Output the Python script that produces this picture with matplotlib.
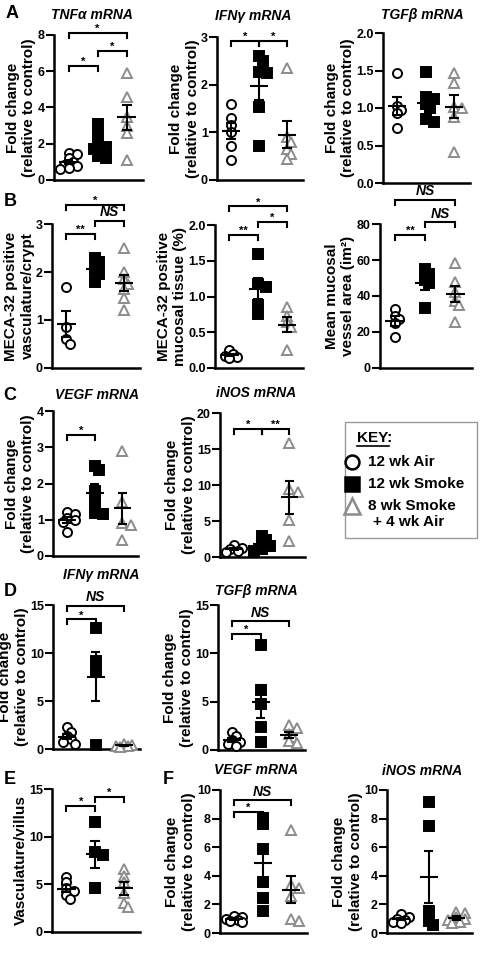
import numpy as np
import matplotlib
matplotlib.use("Agg")
import matplotlib.pyplot as plt
from matplotlib.patches import Rectangle

plt.rcParams["font.family"] = ["Liberation Sans", "DejaVu Sans"]
plt.rcParams["font.weight"] = "bold"

W, H = 480, 974
GREY = "#8c8c8c"

# -----------------------------
# Data: 12 wk Air / 12 wk Smoke / 8 wk Smoke + 4 wk Air
# -----------------------------
tnfa_air = [1.5, 1.45, 1.2, 1.0, 0.85, 0.75, 0.65, 0.6]
tnfa_smoke = [3.1, 2.5, 1.9, 1.8, 1.7, 1.3, 1.2]
tnfa_rec = [5.9, 4.6, 3.5, 3.0, 2.6, 1.1]

ifng_air = [1.6, 1.3, 1.15, 1.0, 0.72, 0.43]
ifng_smoke = [2.6, 2.5, 2.27, 2.25, 1.53, 0.72]
ifng_rec = [2.35, 0.9, 0.8, 0.65, 0.55, 0.45]

tgfb_air = [1.47, 1.03, 0.98, 0.93, 0.73]
tgfb_smoke = [1.48, 1.15, 1.12, 1.05, 1.0, 0.85, 0.82]
tgfb_rec = [1.47, 1.33, 1.02, 1.0, 0.88, 0.42]

meca_crypt_air = [1.68, 0.86, 0.6, 0.5]
meca_crypt_smoke = [2.3, 2.2, 2.05, 1.95, 1.8]
meca_crypt_rec = [2.5, 2.0, 1.85, 1.75, 1.65, 1.45, 1.2]

meca_tissue_air = [0.25, 0.2, 0.17, 0.15, 0.14]
meca_tissue_smoke = [1.6, 1.17, 1.13, 0.88, 0.75]
meca_tissue_rec = [0.85, 0.73, 0.64, 0.57, 0.25]

vessel_area_air = [33, 29, 27, 25, 17]
vessel_area_smoke = [55, 52, 49, 47, 33.5]
vessel_area_rec = [58.5, 48, 42.5, 37, 35, 25.7]

vegf_c_air = [1.22, 1.15, 1.05, 1.0, 0.95, 0.65]
vegf_c_smoke = [2.48, 2.37, 1.78, 1.48, 1.2, 1.15]
vegf_c_rec = [2.9, 1.5, 0.9, 0.85, 0.43]

inos_c_air = [1.7, 1.3, 1.1, 0.9, 0.7]
inos_c_smoke = [2.9, 2.4, 1.9, 1.5, 1.1, 0.8]
inos_c_rec = [15.8, 9.4, 9.0, 5.1, 2.2]

ifng_d_air = [2.3, 1.8, 1.4, 1.0, 0.7, 0.5]
ifng_d_smoke = [12.6, 9.2, 8.0, 0.38]
ifng_d_rec = [0.55, 0.45, 0.35, 0.3, 0.25]

tgfb_d_air = [1.9, 1.4, 1.0, 0.8, 0.6, 0.45]
tgfb_d_smoke = [10.86, 6.2, 4.76, 2.34, 0.86]
tgfb_d_rec = [2.6, 2.3, 1.7, 1.3, 0.9, 0.7]

villus_air = [5.8, 5.2, 4.6, 4.3, 3.9, 3.5]
villus_smoke = [11.5, 8.35, 8.07, 4.63]
villus_rec = [6.6, 5.9, 5.2, 4.1, 3.0, 2.6]

vegf_f_air = [1.2, 1.1, 1.0, 0.9, 0.85, 0.8]
vegf_f_smoke = [8.07, 7.6, 5.9, 3.6, 2.44, 1.56]
vegf_f_rec = [7.2, 3.37, 3.14, 2.56, 1.0, 0.81]

inos_f_air = [1.3, 1.1, 1.0, 0.9, 0.8, 0.7]
inos_f_smoke = [9.14, 7.5, 1.56, 0.86, 0.58]
inos_f_rec = [1.5, 1.4, 1.1, 1.0, 0.9, 0.8, 0.7]

FOLD = "Fold change\n(relative to control)"

# panel options: axes box in pixels (left, top, right, bottom), y ticks, label, groups, brackets
panels = [
    dict(box=(54, 35, 143, 180), ticks=[0, 2, 4, 6, 8], fmt="{:.0f}", ylabel=FOLD,
         title="TNFα mRNA", tpos=(92, 15),
         groups=[tnfa_air, tnfa_smoke, tnfa_rec],
         brackets=[(1, 2, 6.3, "*"), (2, 3, 7.1, "*"), (1, 3, 8.1, "*")]),
    dict(box=(217, 37, 303, 180), ticks=[0, 1, 2, 3], fmt="{:.0f}", ylabel=FOLD,
         title="IFNγ mRNA", tpos=(253, 16),
         groups=[ifng_air, ifng_smoke, ifng_rec],
         brackets=[(1, 2, 2.92, "*"), (2, 3, 2.92, "*")]),
    dict(box=(383, 33, 470, 183), ticks=[0, 0.5, 1.0, 1.5, 2.0], fmt="{:.1f}", ylabel=FOLD,
         title="TGFβ mRNA", tpos=(422, 15),
         groups=[tgfb_air, tgfb_smoke, tgfb_rec], brackets=[]),
    dict(box=(52, 224, 140, 368), ticks=[0, 1, 2, 3], fmt="{:.0f}",
         ylabel="MECA-32 positive\nvasculature/crypt",
         groups=[meca_crypt_air, meca_crypt_smoke, meca_crypt_rec],
         brackets=[(1, 2, 2.79, "**"), (2, 3, 3.07, "NS"), (1, 3, 3.4, "*")]),
    dict(box=(215, 225, 303, 368), ticks=[0, 0.5, 1.0, 1.5, 2.0], fmt="{:.1f}",
         ylabel="MECA-32 positive\nmucosal tissue (%)",
         groups=[meca_tissue_air, meca_tissue_smoke, meca_tissue_rec],
         brackets=[(1, 2, 1.86, "**"), (2, 3, 2.04, "*"), (1, 3, 2.26, "*")]),
    dict(box=(380, 224, 472, 368), ticks=[0, 20, 40, 60, 80], fmt="{:.0f}",
         ylabel="Mean mucosal\nvessel area (im²)",
         groups=[vessel_area_air, vessel_area_smoke, vessel_area_rec],
         brackets=[(1, 2, 74, "**"), (2, 3, 81, "NS"), (1, 3, 93.5, "NS")]),
    dict(box=(53, 411, 138, 556), ticks=[0, 1, 2, 3, 4], fmt="{:.0f}", ylabel=FOLD,
         title="VEGF mRNA", tpos=(97, 395),
         groups=[vegf_c_air, vegf_c_smoke, vegf_c_rec],
         brackets=[(1, 2, 3.34, "*")]),
    dict(box=(220, 413, 305, 557), ticks=[0, 5, 10, 15, 20], fmt="{:.0f}", ylabel=FOLD,
         title="iNOS mRNA", tpos=(256, 393),
         groups=[inos_c_air, inos_c_smoke, inos_c_rec],
         brackets=[(1, 2, 17.8, "*"), (2, 3, 17.8, "**")]),
    dict(box=(53, 605, 140, 749), ticks=[0, 5, 10, 15], fmt="{:.0f}", ylabel=FOLD,
         title="IFNγ mRNA", tpos=(101, 575),
         groups=[ifng_d_air, ifng_d_smoke, ifng_d_rec],
         brackets=[(1, 2, 13.5, "*"), (1, 3, 14.9, "NS")]),
    dict(box=(218, 605, 305, 750), ticks=[0, 5, 10, 15], fmt="{:.0f}", ylabel=FOLD,
         title="TGFβ mRNA", tpos=(256, 591),
         groups=[tgfb_d_air, tgfb_d_smoke, tgfb_d_rec],
         brackets=[(1, 2, 12.0, "*"), (1, 3, 13.3, "NS")]),
    dict(box=(52, 789, 140, 932), ticks=[0, 5, 10, 15], fmt="{:.0f}",
         ylabel="Vasculature/villus",
         groups=[villus_air, villus_smoke, villus_rec],
         brackets=[(1, 2, 13.2, "*"), (2, 3, 14.2, "*")]),
    dict(box=(220, 790, 307, 933), ticks=[0, 2, 4, 6, 8, 10], fmt="{:.0f}", ylabel=FOLD,
         title="VEGF mRNA", tpos=(256, 770),
         groups=[vegf_f_air, vegf_f_smoke, vegf_f_rec],
         brackets=[(1, 2, 8.44, "*"), (1, 3, 9.3, "NS")]),
    dict(box=(387, 790, 472, 933), ticks=[0, 2, 4, 6, 8, 10], fmt="{:.0f}", ylabel=FOLD,
         title="iNOS mRNA", tpos=(422, 771),
         groups=[inos_f_air, inos_f_smoke, inos_f_rec], brackets=[]),
]

letters = [("A", 12, 14), ("B", 10, 201), ("C", 10, 396), ("D", 10, 591),
           ("E", 10, 780), ("F", 168, 780)]

group_styles = [
    dict(marker="o", mfc="white", mec="black"),
    dict(marker="s", mfc="black", mec="black"),
    dict(marker="^", mfc="white", mec=GREY),
]

XLIM = (0.5, 3.56)


def swarm(vals, px_y, px_x, diam=9.0):
    # simple beeswarm: push overlapping points sideways, allowing some overlap
    vals = np.asarray(vals, dtype=float)
    placed = []
    offs = np.zeros(len(vals))
    for k in np.argsort(vals)[::-1]:
        y = vals[k] * px_y
        best, best_d = 0.0, -1.0
        for step in [0, 1, -1, 2, -2]:
            x = step * diam * 0.45
            d = min([np.hypot(x - a, y - b) for a, b in placed] or [99.0])
            if d >= 0.6 * diam:
                best = x
                break
            if d > best_d:
                best, best_d = x, d
        placed.append((best, y))
        offs[k] = best / px_x
    return offs


fig = plt.figure(figsize=(W / 100, H / 100), dpi=100)

for p in panels:
    l, t, r, b = p["box"]
    ax = fig.add_axes([l / W, 1 - b / H, (r - l) / W, (b - t) / H])
    ymax = p["ticks"][-1]
    ax.set_xlim(*XLIM)
    ax.set_ylim(0, ymax)
    px_y = (b - t) / ymax
    px_x = (r - l) / (XLIM[1] - XLIM[0])

    for gi, vals in enumerate(p["groups"]):
        xc = gi + 1
        xs = xc + swarm(vals, px_y, px_x)
        ax.plot(xs, vals, linestyle="none", ms=6.5, mew=1.4, clip_on=False,
                zorder=3, **group_styles[gi])
        m = np.mean(vals)
        s = np.std(vals, ddof=1) / np.sqrt(len(vals))
        kw = dict(color="black", lw=1.5, zorder=4, clip_on=False, solid_capstyle="butt")
        ax.plot([xc - 0.32, xc + 0.32], [m, m], **kw)
        ax.plot([xc, xc], [m - s, m + s], **kw)
        ax.plot([xc - 0.17, xc + 0.17], [m + s, m + s], **kw)
        ax.plot([xc - 0.17, xc + 0.17], [m - s, m - s], **kw)

    drop = 5 / px_y
    for i, j, y, lab in p["brackets"]:
        ax.plot([i, i, j, j], [y - drop, y, y, y - drop], color="black", lw=1.5,
                clip_on=False, solid_joinstyle="miter")
        if lab == "NS":
            ax.text((i + j) / 2, y + 1.5 / px_y, lab, ha="center", va="bottom",
                    fontsize=10, style="italic", fontweight="bold")
        else:
            ax.text((i + j) / 2, y - 1 / px_y, lab, ha="center", va="bottom",
                    fontsize=8)

    ax.set_yticks(p["ticks"])
    ax.set_yticklabels([p["fmt"].format(v) for v in p["ticks"]])
    ax.set_xticks([])
    ax.tick_params(axis="y", length=5.5, width=1.5, labelsize=9, pad=1)
    for side in ["top", "right"]:
        ax.spines[side].set_visible(False)
    for side in ["left", "bottom"]:
        ax.spines[side].set_linewidth(1.8)
    ax.set_ylabel(p["ylabel"], fontsize=11, fontweight="bold", labelpad=1,
                  linespacing=1.2)
    if "title" in p:
        fig.text(p["tpos"][0] / W, 1 - p["tpos"][1] / H, p["title"], ha="center",
                 va="center", fontsize=10, style="italic", fontweight="bold")

for lab, x, y in letters:
    fig.text(x / W, 1 - y / H, lab, ha="center", va="center", fontsize=13,
             fontweight="bold")

# -----------------------------
# Key box
# -----------------------------
key = fig.add_axes([0, 0, 1, 1])
key.set_xlim(0, W)
key.set_ylim(H, 0)
key.axis("off")
key.add_patch(Rectangle((345, 422), 132, 116, fill=False, edgecolor="#9a9a9a", lw=1))
key.text(357, 438, "KEY:", fontsize=11, fontweight="bold", va="center")
key.plot([357, 389], [446, 446], color="black", lw=1.2)
key.plot([352], [462], marker="o", ms=10, mfc="white", mec="black", mew=1.8)
key.plot([352], [484], marker="s", ms=10, mfc="black", mec="black", mew=1.8)
key.plot([352], [506], marker="^", ms=11, mfc="white", mec=GREY, mew=1.8)
key.text(368, 462, "12 wk Air", fontsize=11, fontweight="bold", va="center")
key.text(368, 484, "12 wk Smoke", fontsize=11, fontweight="bold", va="center")
key.text(368, 506, "8 wk Smoke", fontsize=11, fontweight="bold", va="center")
key.text(373, 522, "+ 4 wk Air", fontsize=11, fontweight="bold", va="center")

fig.savefig("out.png", dpi=100)
